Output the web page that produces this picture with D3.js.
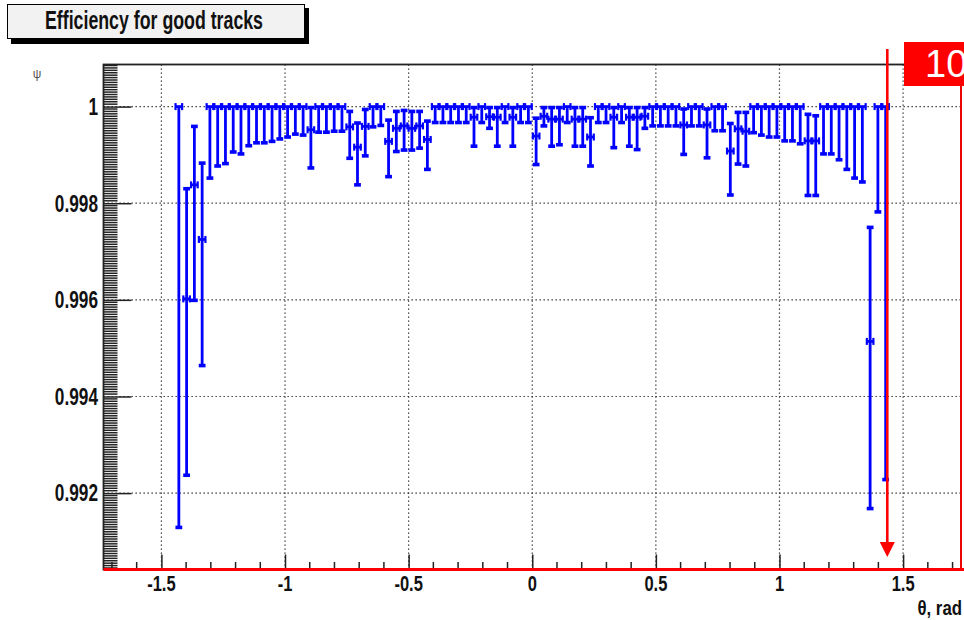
<!DOCTYPE html>
<html>
<head>
<meta charset="utf-8">
<script src="https://cdn.jsdelivr.net/npm/d3@7"></script>
<style>
  body { margin: 0; background: #fff; }
  svg { display: block; }
  text { font-family: "Liberation Sans", Arial, Helvetica, sans-serif; }
</style>
</head>
<body>
<svg id="chart" width="964" height="620"></svg>
<script>
// Efficiency vs polar angle, 100 bins over [-pi/2, pi/2]; filled bins 4..95
const nBins = 100;
const binIndex = d3.range(4, 96);

// efficiency per bin and the lower / upper edge of its interval
const effValue = [
  1, 0.99602, 0.99838, 0.99725, 1, 1, 1, 1, 1, 1, 1, 1, 1, 1, 1, 1, 1,
  0.99952, 1, 1, 1, 1, 0.99958, 0.99916, 0.99959, 1, 1, 0.99928,
  0.99955, 0.99960, 0.99955, 0.99960, 0.99932,
  1, 1, 1, 1, 1, 0.99978, 1, 0.99979, 0.99978, 1, 0.99978, 1, 1,
  0.99939, 0.99980, 0.99974, 0.99974, 1, 0.99974, 0.99974, 0.99937,
  1, 1, 0.99978, 1, 0.99978, 0.99978, 0.99980,
  1, 1, 1, 1, 0.99962, 1, 1, 0.99962, 1, 1,
  0.99908, 0.99954, 0.99949, 1, 1, 1, 1, 1, 1, 1,
  0.99929, 0.99929, 1, 1, 1, 1, 1, 1, 0.99514, 1, 1
];
const effLow = [
  0.99129, 0.99237, 0.99599, 0.99464, 0.99852, 0.99877, 0.99882, 0.99906,
  0.99902, 0.99919, 0.99925, 0.99925, 0.99928, 0.99933, 0.99937, 0.99943, 0.99941,
  0.99873, 0.99947, 0.99947, 0.99949, 0.99949, 0.99893, 0.99838, 0.99898,
  0.99958, 0.99961, 0.99855,
  0.99907, 0.99910, 0.99910, 0.99914, 0.99870,
  0.99967, 0.99967, 0.99967, 0.99967, 0.99967, 0.99918, 0.99967, 0.99955,
  0.99918, 0.99967, 0.99918, 0.99967, 0.99967,
  0.99880, 0.99960, 0.99918, 0.99921, 0.99967, 0.99918, 0.99918, 0.99877,
  0.99967, 0.99967, 0.99915, 0.99967, 0.99918, 0.99911, 0.99955,
  0.99960, 0.99960, 0.99960, 0.99960, 0.99901, 0.99960, 0.99960, 0.99894,
  0.99950, 0.99950,
  0.99817, 0.99881, 0.99877, 0.99946, 0.99941, 0.99937, 0.99937, 0.99929,
  0.99929, 0.99923,
  0.99816, 0.99816, 0.99902, 0.99902, 0.99890, 0.99870, 0.99852, 0.99844,
  0.99168, 0.99782, 0.99228
];
const effHigh = [
  1, 0.99830, 0.99959, 0.99883, 1, 1, 1, 1, 1, 1, 1, 1, 1, 1, 1, 1, 1,
  0.99998, 1, 1, 1, 1, 0.99990, 0.99966, 0.99994, 1, 1, 0.99972,
  0.99990, 0.99992, 0.99990, 0.99990, 0.99970,
  1, 1, 1, 1, 1, 0.99998, 1, 0.99998, 0.99998, 1, 0.99998, 1, 1,
  0.99976, 0.99998, 0.99998, 0.99998, 1, 0.99998, 0.99998, 0.99977,
  1, 1, 0.99998, 1, 0.99998, 0.99998, 0.99998,
  1, 1, 1, 1, 0.99995, 1, 1, 0.99995, 1, 1,
  0.99965, 0.99988, 0.99988, 1, 1, 1, 1, 1, 1, 1,
  0.99984, 0.99981, 1, 1, 1, 1, 1, 1, 0.99750, 1, 1
];

const xTickValues = [-1.5, -1, -0.5, 0, 0.5, 1, 1.5];
const yTickValues = [0.992, 0.994, 0.996, 0.998, 1];
const titleText = "Efficiency for good tracks";
const xTitleText = "\u03b8, rad";
const yTitleText = "\u03c8";
const cutTheta = 1.436;        // position of the marked cut
const cutLabel = "10";

const binWidth = Math.PI / nBins;
const points = binIndex.map((b, k) => ({
  x: -Math.PI / 2 + (b + 0.5) * binWidth,
  v: effValue[k], lo: effLow[k], hi: effHigh[k]
}));

// frame
const fx0 = 103.5, fx1 = 961, fy0 = 64.5, fy1 = 569.5;

// axis ranges padded by 10% of the data span on each side
const xMin = d3.min(points, d => d.x) - binWidth / 2;
const xMax = d3.max(points, d => d.x) + binWidth / 2;
const xPad = 0.1 * (xMax - xMin);
const yMin = d3.min(points, d => d.lo);
const yMax = d3.max(points, d => d.hi);
const yPad = 0.1 * (yMax - yMin);

const x = d3.scaleLinear().domain([xMin - xPad, xMax + xPad]).range([fx0, fx1]);
const y = d3.scaleLinear().domain([yMin - yPad, yMax + yPad]).range([fy1, fy0]);

const svg = d3.select("#chart");
svg.append("rect").attr("width", 964).attr("height", 620).attr("fill", "#fff");

// grid
const grid = svg.append("g").attr("stroke", "#222").attr("stroke-width", 1.2)
  .attr("stroke-dasharray", "1.3 2.7");
grid.selectAll("line.gx").data(xTickValues).join("line")
  .attr("x1", d => x(d)).attr("x2", d => x(d)).attr("y1", fy0).attr("y2", fy1);
grid.selectAll("line.gy").data(yTickValues).join("line")
  .attr("x1", fx0).attr("x2", fx1).attr("y1", d => y(d)).attr("y2", d => y(d));

// x axis: ticks point up into the frame
const xMinor = d3.range(-17, 18).map(k => k / 10).filter(v => Math.abs(v * 2 - Math.round(v * 2)) > 1e-6);
const xAxis = d3.axisBottom(x).tickValues(xTickValues).tickSize(-15);
const gx = svg.append("g").attr("transform", `translate(0,${fy1})`).call(xAxis);
gx.select(".domain").remove();
gx.selectAll(".tick line").attr("stroke", "#222").attr("stroke-width", 1.5);
gx.selectAll(".tick text").remove();
svg.append("g").selectAll("line").data(xMinor).join("line")
  .attr("x1", d => x(d)).attr("x2", d => x(d)).attr("y1", fy1).attr("y2", fy1 - 7.5)
  .attr("stroke", "#222").attr("stroke-width", 1.5);

// y axis: ticks point right into the frame
const yMinor = d3.range(19809, 20018).map(k => k / 20000)
  .filter(v => v >= y.domain()[0] && v <= y.domain()[1])
  .filter(v => Math.abs(v * 500 - Math.round(v * 500)) > 1e-6);
const yAxis = d3.axisLeft(y).tickValues(yTickValues).tickSize(-28);
const gy = svg.append("g").attr("transform", `translate(${fx0},0)`).call(yAxis);
gy.select(".domain").remove();
gy.selectAll(".tick line").attr("stroke", "#222").attr("stroke-width", 1.5);
gy.selectAll(".tick text").remove();
svg.append("g").selectAll("line").data(yMinor).join("line")
  .attr("x1", fx0).attr("x2", fx0 + 14).attr("y1", d => y(d)).attr("y2", d => y(d))
  .attr("stroke", "#222").attr("stroke-width", 1.5);

// frame
svg.append("rect").attr("x", fx0).attr("y", fy0).attr("width", fx1 - fx0).attr("height", fy1 - fy0)
  .attr("fill", "none").attr("stroke", "#222").attr("stroke-width", 1.8);

// tick labels (condensed bold)
const labelFont = 23, squeeze = 0.75;
svg.append("g").selectAll("g").data(yTickValues).join("g")
  .attr("transform", d => `translate(98,${y(d)}) scale(${squeeze},1)`)
  .append("text").attr("text-anchor", "end").attr("dy", "0.36em")
  .attr("font-size", labelFont).attr("font-weight", "bold").attr("fill", "#111")
  .text(d => String(+d.toFixed(3)));
svg.append("g").selectAll("g").data(xTickValues).join("g")
  .attr("transform", d => `translate(${x(d)},591) scale(${squeeze},1)`)
  .append("text").attr("text-anchor", "middle")
  .attr("font-size", labelFont - 1).attr("font-weight", "bold").attr("fill", "#111")
  .text(d => String(d));

// axis titles
svg.append("g").attr("transform", "translate(962,615) scale(0.8,1)")
  .append("text").attr("text-anchor", "end").attr("font-size", 21)
  .attr("font-weight", "bold").attr("fill", "#111").text(xTitleText);
svg.append("text").attr("x", 37).attr("y", 78).attr("text-anchor", "middle")
  .attr("font-size", 12).attr("fill", "#555").text(yTitleText);

// efficiency points with asymmetric errors
const blue = "#0000ff";
const pts = svg.append("g").attr("stroke", blue).attr("fill", "none");
const g = pts.selectAll("g").data(points).join("g");
g.append("line")
  .attr("x1", d => x(d.x)).attr("x2", d => x(d.x))
  .attr("y1", d => y(d.hi)).attr("y2", d => y(d.lo)).attr("stroke-width", 2.8);
g.append("line")
  .attr("x1", d => x(d.x - binWidth / 2)).attr("x2", d => x(d.x + binWidth / 2))
  .attr("y1", d => y(d.v)).attr("y2", d => y(d.v)).attr("stroke-width", 2.8);
g.append("line")   // left cap of the bin-width bar
  .attr("x1", d => x(d.x - binWidth / 2) + 0.6).attr("x2", d => x(d.x - binWidth / 2) + 0.6)
  .attr("y1", d => y(d.v) - 3.5).attr("y2", d => y(d.v) + 3.5).attr("stroke-width", 2.2);
g.append("line")   // right cap
  .attr("x1", d => x(d.x + binWidth / 2) - 0.6).attr("x2", d => x(d.x + binWidth / 2) - 0.6)
  .attr("y1", d => y(d.v) - 3.5).attr("y2", d => y(d.v) + 3.5).attr("stroke-width", 2.2);
g.filter(d => d.lo < d.v).append("line")
  .attr("x1", d => x(d.x) - 3.4).attr("x2", d => x(d.x) + 3.4)
  .attr("y1", d => y(d.lo)).attr("y2", d => y(d.lo)).attr("stroke-width", 3.6);
g.filter(d => d.hi > d.v).append("line")
  .attr("x1", d => x(d.x) - 3.4).attr("x2", d => x(d.x) + 3.4)
  .attr("y1", d => y(d.hi)).attr("y2", d => y(d.hi)).attr("stroke-width", 3.6);

// title box with drop shadow
svg.append("rect").attr("x", 11).attr("y", 8).attr("width", 298).attr("height", 36).attr("fill", "#000");
svg.append("rect").attr("x", 7.5).attr("y", 4.5).attr("width", 297).attr("height", 34)
  .attr("fill", "#f2f2f2").attr("stroke", "#000").attr("stroke-width", 1);
svg.append("text").attr("x", 45).attr("y", 28.5).attr("font-size", 25).attr("font-weight", "bold")
  .attr("textLength", 218).attr("lengthAdjust", "spacingAndGlyphs").attr("fill", "#111")
  .text(titleText);

// red cut marker: frame edges, arrow and label
const red = "#ff0000";
svg.append("line").attr("x1", fx0).attr("x2", 964).attr("y1", fy1).attr("y2", fy1)
  .attr("stroke", red).attr("stroke-width", 3);
svg.append("line").attr("x1", fx1).attr("x2", fx1).attr("y1", 86).attr("y2", fy1)
  .attr("stroke", red).attr("stroke-width", 1.8);
const ax = x(cutTheta);
svg.append("line").attr("x1", ax).attr("x2", ax).attr("y1", 49).attr("y2", 545)
  .attr("stroke", red).attr("stroke-width", 2.6);
svg.append("path")
  .attr("d", `M${ax - 7.5},542 L${ax + 7.5},542 L${ax},557 Z`).attr("fill", red);
svg.append("rect").attr("x", 904).attr("y", 42).attr("width", 60).attr("height", 44).attr("fill", red);
svg.append("text").attr("x", 925).attr("y", 77).attr("font-size", 38).attr("fill", "#fff")
  .text(cutLabel);
</script>
</body>
</html>
